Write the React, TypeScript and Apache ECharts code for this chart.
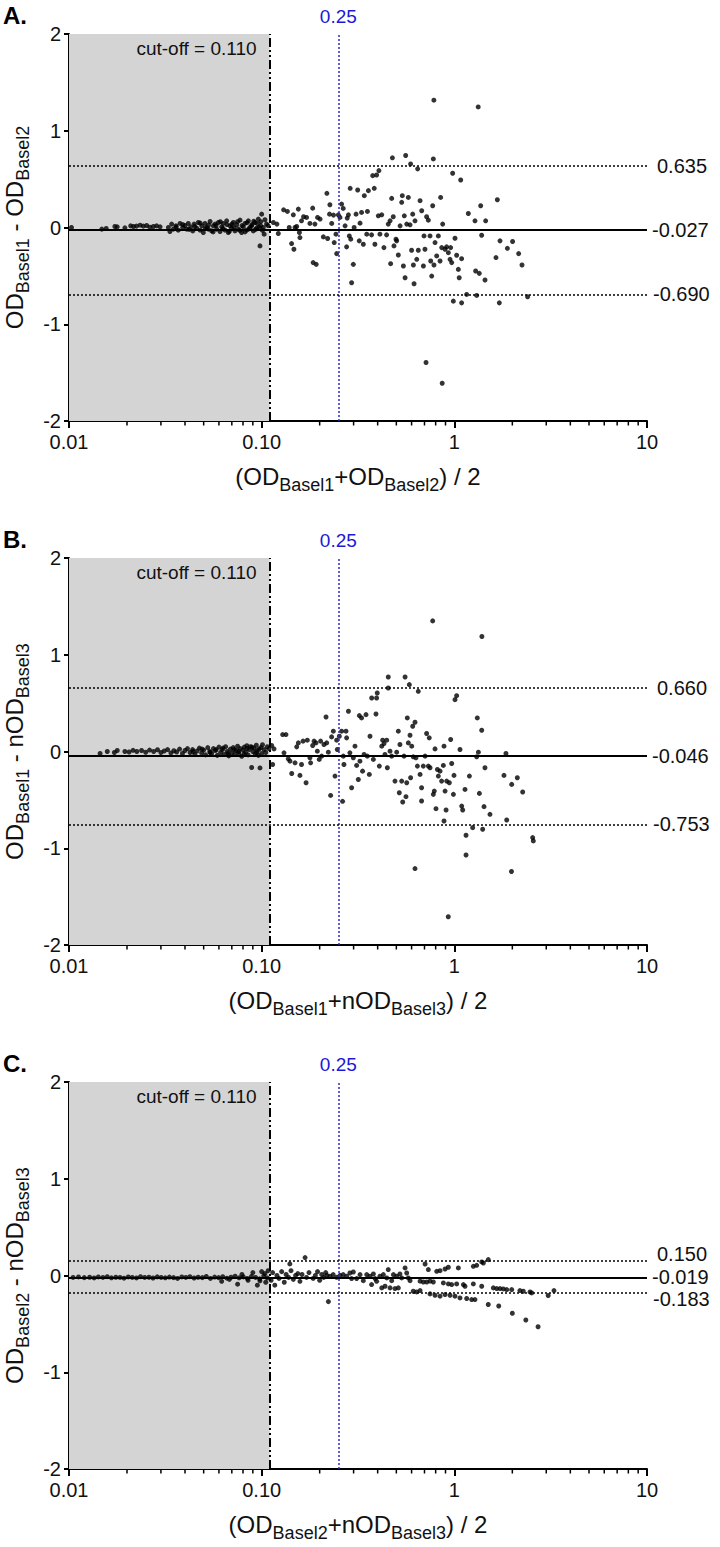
import React, { useEffect, useRef } from 'react';
import * as echarts from 'echarts';

const FONT = "'Liberation Sans', Arial, Helvetica, sans-serif";

// ---- reference lines (Bland-Altman) ----
const panelLetters = ['A.', 'B.', 'C.'];
const meanBias = [-0.027, -0.046, -0.019];
const upperLoA = [0.635, 0.66, 0.15];
const lowerLoA = [-0.69, -0.753, -0.183];
const upperLabels = ['0.635', '0.660', '0.150'];
const meanLabels = ['-0.027', '-0.046', '-0.019'];
const lowerLabels = ['-0.690', '-0.753', '-0.183'];
const cutOff = 0.11;
const cutOffLabel = 'cut-off = 0.110';
const refOD = 0.25;
const refODLabel = '0.25';
const xTickValues = [0.01, 0.1, 1, 10];
const xTickLabels = ['0.01', '0.10', '1', '10'];
const minorTickValues = [0.02, 0.03, 0.04, 0.05, 0.06, 0.07, 0.08, 0.09, 0.2, 0.3, 0.4, 0.5, 0.6, 0.7, 0.8, 0.9, 2, 3, 4, 5, 6, 7, 8, 9];

const xTitles = [
  '{m|(OD}{s|Basel1}{m|+OD}{s|Basel2}{m|) / 2}',
  '{m|(OD}{s|Basel1}{m|+nOD}{s|Basel3}{m|) / 2}',
  '{m|(OD}{s|Basel2}{m|+nOD}{s|Basel3}{m|) / 2}',
];
const yTitles = [
  '{m|OD}{s|Basel1}{m| - OD}{s|Basel2}',
  '{m|OD}{s|Basel1}{m| - nOD}{s|Basel3}',
  '{m|OD}{s|Basel2}{m| - nOD}{s|Basel3}',
];

// ---- Panel A points: [mean OD, difference] ----
const aLow: number[][] = [
  [0.0103, 0.0], [0.0148, -0.017], [0.0156, -0.01], [0.0173, 0.01], [0.0178, 0.007], [0.0195, -0.003], [0.0209, 0.017], [0.0216, 0.01], [0.0224, 0.014], [0.0234, 0.024], [0.0243, 0.014], [0.0253, 0.021], [0.0263, 0.003], [0.0274, 0.01], [0.0285, 0.017], [0.0297, 0.007], [0.0328, 0.0], [0.0334, -0.042], [0.0341, 0.035], [0.0348, -0.017], [0.0359, 0.017], [0.0369, -0.028], [0.0377, 0.042], [0.0389, 0.0], [0.04, 0.021], [0.0408, -0.017], [0.0416, 0.042], [0.0428, 0.007], [0.0439, -0.035], [0.0446, 0.035], [0.046, -0.007], [0.0469, 0.052], [0.0479, -0.028], [0.0489, 0.017], [0.0498, -0.052], [0.0508, 0.042], [0.0518, 0.0], [0.0529, -0.017], [0.054, 0.062], [0.055, -0.035], [0.0561, 0.017], [0.0573, 0.035], [0.0584, -0.017], [0.0596, 0.052], [0.0608, -0.042], [0.062, 0.007], [0.0632, 0.042], [0.0645, -0.028], [0.0658, 0.069], [0.0671, -0.052], [0.0685, 0.017], [0.0699, -0.007], [0.0713, 0.052], [0.0727, -0.035], [0.0742, 0.028], [0.0757, -0.017], [0.0772, 0.076], [0.0787, -0.052], [0.0803, 0.007], [0.0819, 0.042], [0.0836, -0.028], [0.0853, 0.069], [0.0869, 0.0], [0.0887, 0.017], [0.0905, -0.035], [0.0923, 0.052], [0.0941, -0.007], [0.0961, 0.087], [0.098, -0.19], [0.0989, 0.017], [0.1, 0.138], [0.102, 0.0], [0.103, -0.069], [0.106, 0.035],
  [0.036, 0.005], [0.039, 0.03], [0.042, -0.02], [0.045, 0.01], [0.048, 0.045], [0.051, -0.01], [0.053, 0.025], [0.056, -0.045], [0.058, 0.02], [0.061, 0.06], [0.063, -0.01], [0.066, 0.03], [0.068, -0.04], [0.07, 0.035], [0.072, 0.0], [0.075, 0.06], [0.077, -0.03], [0.079, 0.02], [0.082, -0.045], [0.084, 0.05], [0.086, -0.015], [0.089, 0.03], [0.091, 0.065], [0.093, -0.02], [0.095, 0.04], [0.097, 0.0], [0.099, 0.06], [0.101, -0.03], [0.104, 0.08], [0.108, 0.02],
];
const aHigh: number[][] = [
  [0.115, 0.052], [0.12, 0.035], [0.122, -0.062], [0.13, 0.183], [0.136, 0.166], [0.139, 0.0], [0.143, -0.166], [0.146, 0.131], [0.147, -0.225], [0.149, 0.0], [0.152, 0.01], [0.155, 0.19], [0.157, -0.052], [0.158, -0.104], [0.161, 0.069], [0.165, 0.111], [0.171, 0.104], [0.178, 0.042], [0.184, 0.2], [0.185, -0.363], [0.189, 0.035], [0.192, -0.381], [0.195, 0.104], [0.201, 0.087], [0.209, -0.097], [0.218, 0.353], [0.22, -0.114], [0.225, 0.138], [0.226, 0.235], [0.231, 0.042], [0.236, 0.128], [0.238, -0.156], [0.243, -0.069], [0.245, -0.27], [0.25, 0.131], [0.255, 0.104], [0.26, 0.242], [0.265, 0.197], [0.271, 0.017], [0.276, -0.2], [0.278, 0.097], [0.282, 0.131], [0.285, -0.087], [0.288, 0.405], [0.29, -0.121], [0.293, -0.571], [0.299, -0.381], [0.302, 0.0], [0.309, 0.138], [0.315, 0.388], [0.321, -0.138], [0.324, 0.045], [0.33, 0.156], [0.337, -0.173], [0.341, 0.329], [0.351, -0.069], [0.354, 0.166], [0.358, 0.381], [0.372, -0.076], [0.377, 0.536], [0.384, 0.405], [0.387, -0.173], [0.395, 0.543], [0.403, 0.121], [0.406, 0.588], [0.411, -0.069], [0.42, 0.131], [0.431, -0.208], [0.445, -0.076], [0.454, 0.035], [0.464, 0.069], [0.467, -0.374], [0.473, 0.301], [0.477, 0.72], [0.482, 0.111], [0.486, -0.19], [0.498, -0.121], [0.502, -0.138], [0.512, -0.284], [0.523, 0.017], [0.533, 0.26], [0.537, 0.329], [0.544, -0.398], [0.55, 0.121], [0.555, -0.519], [0.559, 0.744], [0.566, 0.035], [0.577, 0.311], [0.589, 0.028], [0.593, 0.657], [0.6, -0.235], [0.608, 0.138], [0.613, -0.388], [0.618, -0.581], [0.625, 0.069], [0.638, -0.329], [0.645, 0.606], [0.65, -0.235], [0.664, 0.277], [0.677, 0.173], [0.691, -0.398], [0.696, -0.087], [0.704, -0.225], [0.718, 0.111], [0.733, 0.076], [0.748, -0.087], [0.754, -0.346], [0.763, -0.502], [0.772, 0.225], [0.778, 0.709], [0.784, -0.388], [0.794, -0.156], [0.81, -0.294], [0.826, -0.087], [0.843, -0.346], [0.849, 0.311], [0.86, -0.208], [0.87, 0.035], [0.895, -0.225], [0.912, -0.2], [0.931, -0.26], [0.95, -0.329], [0.957, -0.208], [0.969, -0.363], [0.98, 0.561], [0.988, -0.761], [1.008, -0.111], [1.028, -0.287], [1.049, -0.433], [1.06, -0.519], [1.079, 0.491], [1.091, -0.779], [1.091, -0.322], [1.159, -0.692], [1.182, 0.145], [1.28, 0.069], [1.29, -0.45], [1.306, -0.702], [1.348, -0.474], [1.37, 0.225], [1.386, -0.08], [1.443, -0.543], [1.454, 0.069], [1.645, -0.311], [1.672, 0.287], [1.712, -0.779], [1.726, -0.138], [1.885, -0.215], [2.006, -0.145], [2.157, -0.27], [2.245, -0.388], [2.4, -0.716],
  [0.783, 1.316], [1.33, 1.246], [0.713, -1.395], [0.865, -1.61],
];

// ---- Panel B points ----
const bLow: number[][] = [
  [0.0145, -0.02], [0.0158, 0.0], [0.0172, -0.01], [0.0178, 0.01], [0.0195, 0.0], [0.0205, -0.005], [0.0215, 0.012], [0.0225, 0.0], [0.0238, 0.01], [0.025, -0.008], [0.0262, 0.015], [0.0275, 0.0], [0.0288, 0.018], [0.03, -0.01], [0.0312, 0.005], [0.0325, 0.02], [0.0338, -0.015], [0.035, 0.008], [0.0362, -0.005], [0.0375, 0.025], [0.0388, -0.02], [0.04, 0.01], [0.0412, 0.03], [0.0425, -0.01], [0.0438, 0.02], [0.045, -0.03], [0.0462, 0.005], [0.0475, 0.035], [0.0488, -0.015], [0.05, 0.015], [0.0512, -0.035], [0.0525, 0.04], [0.0538, 0.0], [0.055, -0.02], [0.0562, 0.03], [0.0575, 0.01], [0.0588, -0.04], [0.06, 0.045], [0.0612, -0.01], [0.0625, 0.02], [0.0638, -0.03], [0.065, 0.05], [0.0662, 0.0], [0.0675, -0.045], [0.0688, 0.025], [0.07, -0.015], [0.0712, 0.04], [0.0725, -0.03], [0.0738, 0.01], [0.075, 0.055], [0.0762, -0.02], [0.0775, 0.03], [0.0788, -0.05], [0.08, 0.015], [0.0812, 0.045], [0.0825, -0.01], [0.0838, 0.06], [0.085, -0.035], [0.0862, 0.02], [0.0875, 0.05], [0.0887, -0.165], [0.09, 0.0], [0.0912, 0.035], [0.0925, -0.025], [0.0938, 0.065], [0.095, 0.01], [0.0962, -0.04], [0.098, -0.17], [0.099, 0.04], [0.101, 0.07], [0.103, 0.02], [0.105, -0.01], [0.107, 0.05], [0.109, 0.03],
  [0.044, 0.0], [0.049, 0.025], [0.054, -0.01], [0.058, 0.02], [0.063, 0.035], [0.067, -0.02], [0.072, 0.02], [0.076, 0.0], [0.081, -0.025], [0.084, 0.03], [0.089, 0.045], [0.094, -0.01], [0.097, 0.025], [0.1, -0.02],
];
const bHigh: number[][] = [
  [0.1127, 0.062], [0.1159, 0.027], [0.114, -0.134], [0.1285, 0.175], [0.1337, 0.175], [0.1306, -0.014], [0.1374, -0.076], [0.1403, -0.1], [0.1432, -0.227], [0.149, -0.117], [0.152, 0.048], [0.155, 0.089], [0.158, -0.247], [0.161, -0.134], [0.164, 0.107], [0.17, -0.323], [0.1726, 0.117], [0.178, -0.065], [0.1795, -0.117], [0.184, 0.062], [0.187, 0.107], [0.1914, 0.089], [0.1945, 0.003], [0.199, -0.082], [0.2023, 0.107], [0.2048, -0.048], [0.2105, 0.072], [0.2158, 0.357], [0.2175, 0.089], [0.2218, -0.007], [0.228, -0.454], [0.2307, 0.151], [0.2355, 0.21], [0.2403, -0.254], [0.245, 0.117], [0.247, 0.021], [0.253, 0.158], [0.26, 0.21], [0.263, -0.515], [0.2653, -0.048], [0.2673, -0.134], [0.274, 0.21], [0.276, 0.141], [0.282, 0.416], [0.287, -0.014], [0.293, -0.375], [0.299, -0.065], [0.305, 0.055], [0.311, -0.144], [0.3175, -0.289], [0.3213, 0.371], [0.3236, -0.1], [0.33, 0.347], [0.334, -0.203], [0.34, -0.031], [0.348, 0.381], [0.3535, -0.048], [0.362, -0.237], [0.365, 0.158], [0.3724, 0.553], [0.38, -0.082], [0.392, 0.388], [0.395, 0.553], [0.398, 0.605], [0.408, -0.151], [0.42, 0.055], [0.4246, 0.117], [0.4315, 0.082], [0.4365, -0.031], [0.4457, 0.117], [0.449, -0.168], [0.454, 0.77], [0.454, 0.656], [0.4637, 0.003], [0.473, -0.048], [0.492, -0.306], [0.502, -0.007], [0.512, 0.21], [0.518, -0.426], [0.522, 0.072], [0.533, -0.306], [0.5395, -0.522], [0.548, -0.048], [0.555, 0.77], [0.561, -0.467], [0.566, -0.323], [0.57, 0.347], [0.577, 0.089], [0.584, 0.691], [0.5888, 0.168], [0.593, -0.271], [0.601, 0.055], [0.608, 0.261], [0.612, -0.055], [0.625, 0.302], [0.632, -0.065], [0.643, -0.151], [0.65, 0.622], [0.664, -0.237], [0.676, -0.375], [0.676, -0.512], [0.69, -0.151], [0.705, -0.048], [0.718, 0.186], [0.733, -0.151], [0.741, 0.141], [0.748, -0.168], [0.778, -0.443], [0.787, -0.409], [0.794, 0.027], [0.803, -0.591], [0.817, -0.186], [0.826, -0.254], [0.843, -0.203], [0.859, -0.306], [0.877, -0.144], [0.884, 0.055], [0.895, -0.409], [0.906, -0.605], [0.913, -0.306], [0.942, -0.323], [0.957, 0.124], [0.969, -0.124], [0.989, -0.443], [0.996, -0.247], [1.008, 0.536], [1.028, 0.577], [1.07, 0.021], [1.092, -0.564], [1.105, -0.605], [1.136, -0.392], [1.197, -0.254], [1.306, -0.055], [1.316, 0.347], [1.333, -0.007], [1.349, -0.433], [1.387, 0.22], [1.426, -0.57], [1.442, -0.168], [1.531, -0.649], [1.81, -0.247], [1.853, -0.021], [1.985, -0.34], [2.123, -0.271], [2.263, -0.419],
  [1.15, -0.866], [1.245, -0.787], [1.403, -0.804], [1.87, -0.708], [2.55, -0.89], [2.57, -0.924], [0.884, -0.718],
  [0.625, -1.21], [1.15, -1.07], [0.93, -1.708], [1.98, -1.24],
  [0.772, 1.35], [1.39, 1.189],
];

// ---- Panel C points ----
const cLow: number[][] = [
  [0.0105, -0.02], [0.0112, -0.015], [0.012, -0.022], [0.0128, -0.018], [0.0135, -0.025], [0.0142, -0.015], [0.015, -0.02], [0.0158, -0.012], [0.0166, -0.024], [0.0175, -0.018], [0.0184, -0.02], [0.0193, -0.028], [0.0203, -0.015], [0.0213, -0.02], [0.0224, -0.025], [0.0235, -0.012], [0.0247, -0.02], [0.026, -0.018], [0.0273, -0.026], [0.0287, -0.014], [0.0301, -0.02], [0.0316, -0.024], [0.0332, -0.016], [0.0349, -0.022], [0.0366, -0.03], [0.0385, -0.015], [0.0404, -0.02], [0.0424, -0.012], [0.0446, -0.026], [0.0468, -0.018], [0.0492, -0.022], [0.0516, -0.01], [0.0542, -0.03], [0.057, -0.016], [0.0598, -0.022], [0.0628, -0.012], [0.066, -0.028], [0.0693, -0.018], [0.0728, -0.008], [0.0764, -0.024], [0.0803, -0.015], [0.0843, -0.03], [0.0885, -0.01], [0.093, -0.02], [0.0976, -0.035], [0.1025, -0.005], [0.107, -0.025],
  [0.062, -0.06], [0.075, -0.09], [0.085, -0.05], [0.095, -0.1], [0.1, 0.04], [0.105, -0.07], [0.108, 0.05], [0.09, 0.03], [0.079, 0.01], [0.068, -0.04], [0.104, 0.02], [0.098, -0.055],
];
const cHigh: number[][] = [
  [0.112, -0.05], [0.114, 0.03], [0.117, -0.1], [0.12, 0.0], [0.123, -0.03], [0.127, 0.04], [0.131, -0.07], [0.134, 0.01], [0.14, 0.12], [0.138, -0.02], [0.142, 0.05], [0.146, -0.04], [0.15, 0.0], [0.154, 0.02], [0.158, -0.06], [0.162, 0.01], [0.168, 0.185], [0.171, -0.02], [0.176, 0.03], [0.185, -0.03], [0.19, 0.0], [0.195, 0.04], [0.2, -0.05], [0.205, 0.01], [0.21, -0.02], [0.215, 0.03], [0.222, -0.27], [0.218, 0.0],
  [0.226, -0.008], [0.235, 0.009], [0.245, -0.019], [0.255, 0.002], [0.265, 0.009], [0.276, -0.008], [0.287, 0.026], [0.293, -0.032], [0.299, 0.036], [0.311, -0.032], [0.324, 0.009], [0.337, -0.053], [0.351, 0.009], [0.365, -0.008], [0.372, -0.094], [0.38, 0.016], [0.388, -0.032], [0.395, -0.06], [0.411, -0.008], [0.42, -0.128], [0.428, 0.009], [0.437, -0.111], [0.446, -0.025], [0.454, 0.061], [0.464, -0.128], [0.473, -0.053], [0.483, 0.009], [0.492, -0.135], [0.502, -0.008], [0.512, -0.128], [0.522, 0.016], [0.533, -0.025], [0.555, 0.078], [0.566, 0.026], [0.577, -0.025], [0.589, -0.053],
  [0.705, 0.119], [0.733, 0.061], [0.81, 0.043], [0.843, 0.05], [0.895, 0.067], [0.931, 0.085], [1.049, 0.078], [1.255, 0.095], [1.306, 0.105], [1.387, 0.14], [1.415, 0.129], [1.5, 0.164],
  [0.612, -0.163], [0.637, -0.17], [0.664, -0.156], [0.748, -0.19], [0.794, -0.204], [0.843, -0.214], [0.895, -0.197], [0.95, -0.204], [1.008, -0.214], [1.07, -0.232], [1.159, -0.238], [1.23, -0.249], [1.28, -0.249], [1.5, -0.3], [1.7, -0.315], [2.0, -0.39], [2.35, -0.46], [2.72, -0.53],
  [0.664, -0.059], [0.69, -0.067], [0.719, -0.067], [0.748, -0.059], [0.778, -0.067], [0.877, -0.077], [0.931, -0.087], [0.969, -0.094], [1.028, -0.087], [1.114, -0.094], [1.136, -0.111], [1.255, -0.087], [1.387, -0.111], [1.594, -0.128], [1.66, -0.135], [1.726, -0.135], [1.795, -0.139], [1.87, -0.146], [1.985, -0.146], [2.19, -0.156], [2.28, -0.163], [2.47, -0.17], [2.52, -0.18], [3.07, -0.207], [3.29, -0.156],
];

const panelPoints = [aLow.concat(aHigh), bLow.concat(bHigh), cLow.concat(cHigh)];

const gridTops = [34, 558, 1082];
const gridHeight = 387;
const gridLeft = 69;
const gridWidth = 578;

const richTitle = {
  m: { fontSize: 24, fontFamily: FONT, color: '#111', verticalAlign: 'top' },
  s: { fontSize: 18, fontFamily: FONT, color: '#111', verticalAlign: 'top', padding: [12, 0, 0, 0] },
};

function fmtX(v: number) {
  for (let i = 0; i < xTickValues.length; i++) {
    if (Math.abs(v - xTickValues[i]) / xTickValues[i] < 1e-6) return xTickLabels[i];
  }
  return '';
}

export default function App() {
  const ref = useRef<HTMLDivElement>(null);
  useEffect(() => {
    document.body.style.margin = '0';
    if (!ref.current) return;
    const chart = echarts.init(ref.current, undefined, { renderer: 'svg' });
    const idx = [0, 1, 2];
    const dotted = { color: '#000', width: 1.5, type: [2, 2] as any };
    const limitLabel = (text: string, shift: number, distance: number) => ({
      show: true,
      position: 'end',
      // shift > 0 moves the text up, < 0 moves it down (blank line trick)
      formatter: shift > 0 ? text + '\n ' : shift < 0 ? ' \n' + text : text,
      lineHeight: shift !== 0 ? Math.abs(shift) * 2 : 22,
      color: '#111',
      fontSize: 20,
      fontFamily: FONT,
      distance,
    });
    const option: any = {
      animation: false,
      backgroundColor: '#fff',
      textStyle: { fontFamily: FONT },
      grid: idx.map((i) => ({
        left: gridLeft,
        top: gridTops[i],
        width: gridWidth,
        height: gridHeight,
        containLabel: false,
        outerBoundsMode: 'none',
      })),
      xAxis: idx.map((i) => ({
        type: 'log',
        gridIndex: i,
        logBase: 10,
        min: 0.01,
        max: 10,
        splitNumber: 3,
        axisLine: { show: true, onZero: false, lineStyle: { color: '#000', width: 2 } },
        axisTick: { show: true, length: 7, lineStyle: { color: '#000', width: 2 } },
        axisLabel: { fontSize: 20, color: '#111', fontFamily: FONT, margin: 11, formatter: fmtX, showMinLabel: true, showMaxLabel: true },
        splitLine: { show: false },
        name: xTitles[i],
        nameLocation: 'middle',
        nameGap: 43,
        nameTextStyle: { rich: richTitle },
      })),
      yAxis: idx.map((i) => ({
        type: 'value',
        gridIndex: i,
        min: -2,
        max: 2,
        interval: 1,
        axisLine: { show: true, onZero: false, lineStyle: { color: '#000', width: 2 } },
        axisTick: { show: true, length: 5, lineStyle: { color: '#000', width: 2 } },
        axisLabel: { fontSize: 20, color: '#111', fontFamily: FONT, margin: 8 },
        splitLine: { show: false },
        name: yTitles[i],
        nameLocation: 'middle',
        nameRotate: 90,
        nameGap: 32,
        nameTextStyle: { rich: richTitle },
      })),
      graphic: idx.map((i) => ({
        type: 'text',
        left: 3,
        top: gridTops[i] - 31,
        style: { text: panelLetters[i], fontSize: 24, fontWeight: 'bold', fontFamily: FONT, fill: '#000' },
      })),
      series: [] as any[],
    };
    idx.forEach((i) => {
      option.series.push({
        type: 'scatter',
        xAxisIndex: i,
        yAxisIndex: i,
        data: panelPoints[i],
        symbolSize: 5,
        itemStyle: { color: '#000' },
        z: 3,
        markArea: {
          silent: true,
          itemStyle: { color: '#d4d4d4' },
          label: {
            show: true,
            position: 'insideTopRight',
            formatter: cutOffLabel,
            fontSize: 19,
            color: '#111',
            fontFamily: FONT,
            offset: [-8, 0],
          },
          data: [[{ xAxis: 0.01 }, { xAxis: cutOff }]],
        },
        markLine: {
          silent: true,
          symbol: 'none',
          precision: 3,
          data: [
            { xAxis: cutOff, lineStyle: { color: '#000', width: 2, type: [9, 3, 2, 3, 2, 3] }, label: { show: false } },
            {
              xAxis: refOD,
              lineStyle: { color: '#2a2ad0', width: 1.5, type: [2, 2] },
              label: { show: true, position: 'end', formatter: refODLabel, color: '#1a1ad8', fontSize: 19, fontFamily: FONT, distance: 8 },
            },
            { yAxis: upperLoA[i], lineStyle: dotted, label: limitLabel(upperLabels[i], i === 2 ? 7 : 0, 10) },
            { yAxis: meanBias[i], lineStyle: { color: '#000', width: 2, type: 'solid' }, label: limitLabel(meanLabels[i], 0, 5) },
            { yAxis: lowerLoA[i], lineStyle: dotted, label: limitLabel(lowerLabels[i], i === 2 ? -6 : 0, 6) },
          ],
        },
      });
      option.series.push({
        type: 'custom',
        xAxisIndex: i,
        yAxisIndex: i,
        silent: true,
        clip: false,
        z: 4,
        data: minorTickValues.map((v) => [v, -2]),
        renderItem: (params: any, api: any) => {
          const p = api.coord([api.value(0), api.value(1)]);
          return {
            type: 'line',
            shape: { x1: p[0], y1: p[1], x2: p[0], y2: p[1] + 4.5 },
            style: { stroke: '#000', lineWidth: 1.5 },
          };
        },
      });
    });
    chart.setOption(option);
    return () => chart.dispose();
  }, []);
  return <div ref={ref} style={{ width: 720, height: 1547 }} />;
}
